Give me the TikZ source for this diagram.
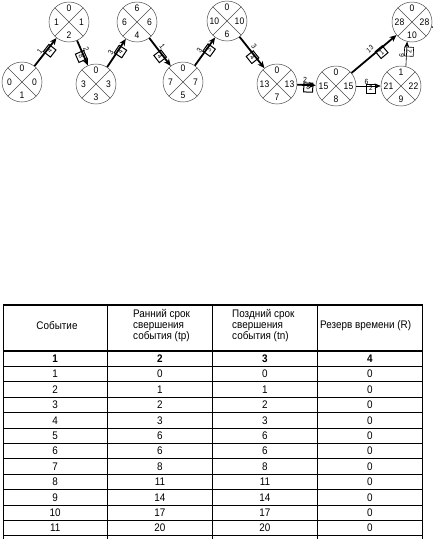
\documentclass[tikz,border=0pt]{standalone}
\usepackage{fontspec}
\setmainfont{Liberation Sans}[FakeStretch=0.9]
\usetikzlibrary{calc,arrows.meta}
\newcommand\evnode[7]{%
  \node[ev] (#1) at (#2,#3) {};
  \draw[div] (#1.45) -- (#1.225) (#1.135) -- (#1.315);
  \node[num] (#1t) at ($(#1)+(0,-13.5)$) {#4};
  \node[num] (#1l) at ($(#1)+(-12.5,0)$) {#5};
  \node[num] (#1r) at ($(#1)+(12.5,0)$) {#6};
  \node[num] (#1b) at ($(#1)+(0,13.5)$) {#7};}
\begin{document}
\begin{tikzpicture}[x=1pt,y=-1pt,
  ev/.style={circle,draw=black!70,line width=0.5pt,minimum size=40pt,inner sep=0pt},
  div/.style={draw=black!70,line width=0.4pt},
  num/.style={font=\fontsize{9.5}{10}\selectfont,inner sep=0pt},
  crit/.style={line width=1.8pt,-{Stealth[length=7pt,width=6pt]}},
  thinarr/.style={line width=0.6pt,-{Stealth[length=6pt,width=5pt]}},
  dur/.style={font=\fontsize{7.5}{8}\selectfont,inner sep=1.5pt,sloped,above,pos=0.42},
  wbox/.style={draw,line width=1pt,font=\fontsize{7}{8}\selectfont,inner sep=1pt,minimum width=9pt,minimum height=9pt,sloped,below,yshift=2.5pt,pos=0.6},
  tline/.style={line width=1pt},
  ttext/.style={font=\fontsize{11}{11}\selectfont,inner sep=0pt},
  hdr/.style={font=\fontsize{11}{11}\selectfont,inner sep=0pt,align=left,anchor=west}]
\useasboundingbox (0,0) rectangle (433,539);
% events
\evnode{n1}{22}{82}{0}{0}{0}{1}
\evnode{n2}{69}{22}{0}{1}{1}{2}
\evnode{n3}{96}{84}{0}{3}{3}{3}
\evnode{n4}{137}{22}{6}{6}{6}{4}
\evnode{n5}{183}{82}{0}{7}{7}{5}
\evnode{n6}{227}{21}{0}{10}{10}{6}
\evnode{n7}{277}{84}{0}{13}{13}{7}
\evnode{n8}{336}{86}{0}{15}{15}{8}
\evnode{n9}{401}{86}{1}{21}{22}{9}
\evnode{n10}{412}{22}{0}{28}{28}{10}
% works
\draw[crit] (n1) -- node[dur] (d12) {1} node[wbox] (w12) {4} (n2);
\draw[crit] (n2) -- node[dur] (d23) {2} node[wbox] (w23) {8} (n3);
\draw[crit] (n3) -- node[dur] (d34) {3} node[wbox] (w34) {4} (n4);
\draw[crit] (n4) -- node[dur] (d45) {1} node[wbox] (w45) {4} (n5);
\draw[crit] (n5) -- node[dur] (d56) {3} node[wbox] (w56) {3} (n6);
\draw[crit] (n6) -- node[dur] (d67) {3} node[wbox] (w67) {4} (n7);
\draw[crit] (n7) -- node[dur] (d78) {2} node[wbox] (w78) {8} (n8);
\draw[crit] (n8) -- node[dur,pos=0.5,inner sep=3pt,font=\fontsize{7}{8}\selectfont] (d810) {13} node[wbox,pos=0.62,yshift=-1pt] (w810) {1} (n10);
\draw[thinarr] (n8) -- node[dur] (d89) {6} node[wbox,line width=0.6pt] (w89) {2} (n9);
\draw[thinarr] (n9.76) -- node[dur] (d910) {6} node[wbox,line width=0.6pt] (w910) {2} (n10.256);
\coordinate (out) at (433,27);
\draw[line width=1.2pt] (n10.-15) -- (out);
% table
\foreach \xx in {3,107.5,212.5,317.5,422.5}
  \draw[line width=0.9pt] (\xx,305) -- (\xx,539);
\draw[line width=1.2pt] (3,305) -- (422.5,305);
\draw[line width=1.8pt] (3,351) -- (422.5,351);
\foreach \k in {0,...,11}
  \draw[tline] (3,366.4+\k*15.4) -- (422.5,366.4+\k*15.4);
\node[ttext] (h1) at (57,326) {Событие};
\node[hdr] (h2) at (133,326) {Ранний срок\\свершения\\события (tp)};
\node[hdr] (h3) at (232,326) {Поздний срок\\свершения\\события (tn)};
\node[hdr] (h4) at (320,325.5) {Резерв времени (R)};
\node[ttext,font=\fontsize{11}{11}\selectfont\bfseries] (c1) at (55.25,358.7) {1};
\node[ttext,font=\fontsize{11}{11}\selectfont\bfseries] (c2) at (160,358.7) {2};
\node[ttext,font=\fontsize{11}{11}\selectfont\bfseries] (c3) at (265,358.7) {3};
\node[ttext,font=\fontsize{11}{11}\selectfont\bfseries] (c4) at (370,358.7) {4};
\foreach \a/\b/\c/\d [count=\i] in {1/0/0/0,2/1/1/0,3/2/2/0,4/3/3/0,5/6/6/0,6/6/6/0,7/8/8/0,8/11/11/0,9/14/14/0,10/17/17/0,11/20/20/0}{
  \node[ttext] (ra\i) at (55.25,358.7+\i*15.4) {\a};
  \node[ttext] (rb\i) at (160,358.7+\i*15.4) {\b};
  \node[ttext] (rc\i) at (265,358.7+\i*15.4) {\c};
  \node[ttext] (rd\i) at (370,358.7+\i*15.4) {\d};
}
\end{tikzpicture}
\end{document}
